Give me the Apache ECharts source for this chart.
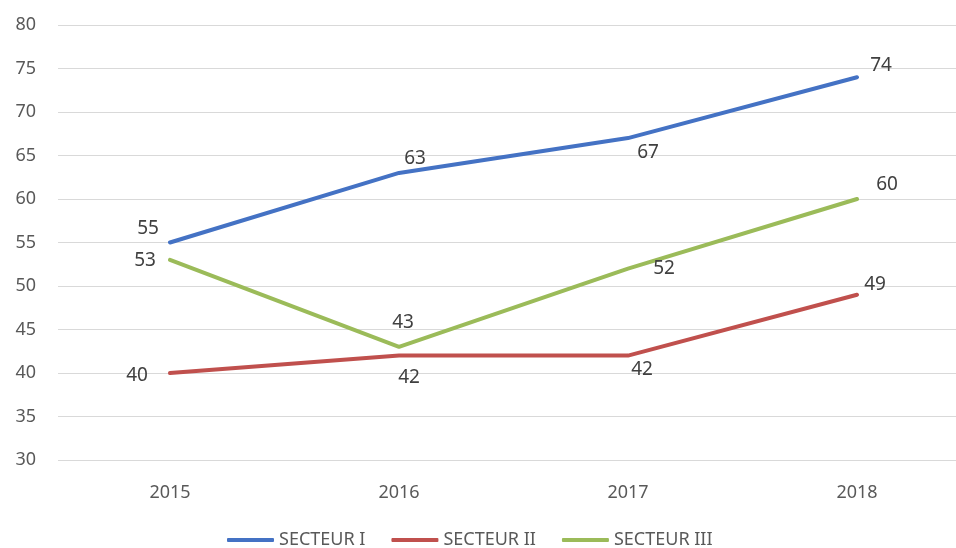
<!DOCTYPE html>
<html>
<head>
	<meta charset="utf-8">
	<title>Secteurs 2015-2018</title>
	<script src="https://cdn.jsdelivr.net/npm/echarts@6/dist/echarts.min.js"></script>
	<style>
	  html, body{ margin:0; padding:0; background:#fff; }
	  #chart{ width:956px; height:548px; }
	</style>
</head>
<body>
<div id="chart"></div>
<script>
	// données
	var years = ['2015', '2016', '2017', '2018'];
	var seriesNames = ['SECTEUR I', 'SECTEUR II', 'SECTEUR III'];
	var secteur1 = [55, 63, 67, 74];
	var secteur2 = [40, 42, 42, 49];
	var secteur3 = [53, 43, 52, 60];

	var colors = ['#4472C4', '#C0504D', '#9BBB59'];

	// position des étiquettes, point par point
	var labelPos = [
		[[-22, -14], [16, -14], [20, 14], [24, -12]],
		[[-33, 3], [10, 22], [14, 14], [18, -10]],
		[[-25, 1], [4, -24], [36, 0], [30, -14]]
	];

	function buildData(values, k){
		return values.map(function(v, i){
			return {
				value: v,
				label: { offset: labelPos[k][i] }
			};
		});
	}

	var allValues = [secteur1, secteur2, secteur3];
	var series = allValues.map(function(vals, k){
		return {
			name: seriesNames[k],
			type: 'line',
			xAxisIndex: 1,
			yAxisIndex: 1,
			symbol: 'circle',
			symbolSize: 0.1,
			showSymbol: true,
			lineStyle: { width: 4, color: colors[k], cap: 'round' },
			itemStyle: { color: colors[k] },
			label: {
				show: true,
				position: 'inside',
				color: '#404040',
				fontSize: 19,
				fontFamily: 'Noto Sans'
			},
			data: buildData(vals, k)
		};
	});

	var axisFont = { color: '#595959', fontSize: 18, fontFamily: 'Noto Sans' };

	var option = {
		animation: false,
		// grille 0 : quadrillage pleine largeur ; grille 1 : tracé des courbes
		grid: [
			{ left: 58, right: 0, top: 25, bottom: 88 },
			{ left: 170, right: 99, top: 25, bottom: 88 }
		],
		legend: {
			data: seriesNames.map(function(n){ return { name: n, icon: 'roundRect' }; }),
			left: 222,
			top: 526,
			itemWidth: 47,
			itemHeight: 4,
			itemGap: 26,
			textStyle: { color: '#595959', fontSize: 18, fontFamily: 'Noto Sans' }
		},
		xAxis: [
			{
				type: 'value',
				gridIndex: 0,
				show: false
			},
			{
				type: 'category',
				gridIndex: 1,
				data: years,
				boundaryGap: false,
				axisLine: { show: false },
				axisTick: { show: false },
				splitLine: { show: false },
				axisLabel: Object.assign({ margin: 24 }, axisFont)
			}
		],
		yAxis: [
			{
				type: 'value',
				gridIndex: 0,
				min: 30,
				max: 80,
				interval: 5,
				axisLine: { show: false },
				axisTick: { show: false },
				axisLabel: Object.assign({ margin: 22 }, axisFont),
				splitLine: { lineStyle: { color: '#D9D9D9', width: 1 } }
			},
			{
				type: 'value',
				gridIndex: 1,
				min: 30,
				max: 80,
				interval: 5,
				show: false,
				splitLine: { show: false }
			}
		],
		series: series
	};

	var myChart = echarts.init(document.getElementById('chart'));
	myChart.setOption(option);
</script>
</body>
</html>
